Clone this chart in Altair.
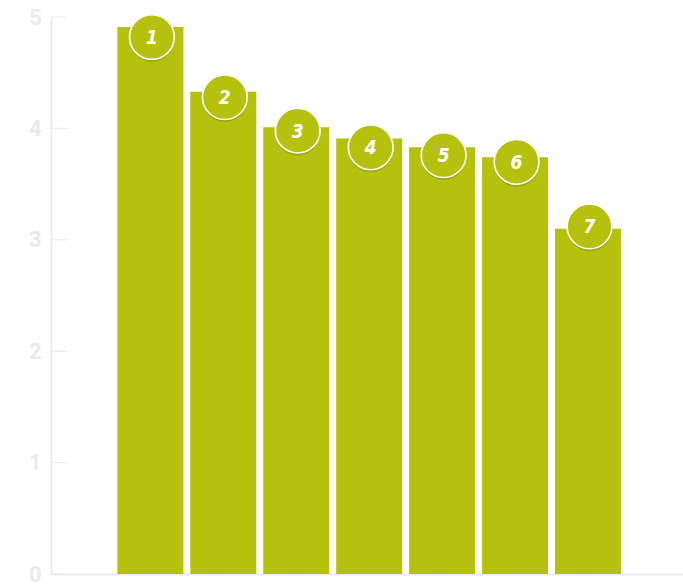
import altair as alt
import pandas as pd

ranks = ["1", "2", "3", "4", "5", "6", "7"]
values = [4.91, 4.33, 4.01, 3.91, 3.83, 3.74, 3.10]
badge_levels = [4.82, 4.28, 3.98, 3.83, 3.76, 3.70, 3.12]
tick_values = [0, 1, 2, 3, 4, 5]

BAR = "#b6c10e"
GRID = "#ebebeb"

df = pd.DataFrame({"rank": ranks, "value": values, "badge": badge_levels})
ticks_df = pd.DataFrame({"t": tick_values})

xscale = alt.Scale(domain=ranks, paddingInner=0.095, paddingOuter=0.88, align=0.517)
yscale = alt.Scale(domain=[0, 5], nice=False, zero=True)

x_enc = alt.X("rank:N", scale=xscale, sort=ranks,
              axis=alt.Axis(labels=False, ticks=False, title=None, grid=False,
                            domainColor=GRID, domainWidth=2))

bars = alt.Chart(df).mark_bar(color=BAR).encode(
    x=x_enc,
    y=alt.Y("value:Q", scale=yscale,
            axis=alt.Axis(values=tick_values, format="d", ticks=False, grid=False, title=None,
                          domainColor=GRID, domainWidth=2,
                          labelColor="#eaeaea", labelFont="Roboto",
                          labelFontWeight="bold", labelFontSize=22,
                          labelPadding=10)),
)

tick_rules = alt.Chart(ticks_df).mark_rule(color=GRID, strokeWidth=1.2).encode(
    y=alt.Y("t:Q", scale=yscale),
    x=alt.value(0),
    x2=alt.value(16),
)

bx = alt.X("rank:N", scale=xscale, sort=ranks)
by = alt.Y("badge:Q", scale=yscale)

shadow = alt.Chart(df).mark_point(
    shape="circle", filled=True, size=2000, color="#7d8508", opacity=0.45,
    yOffset=2.5, xOffset=1.5,
).encode(x=bx, y=by)

badges = alt.Chart(df).mark_point(
    shape="circle", filled=True, size=2000, color=BAR,
    stroke="white", strokeWidth=1.6, opacity=1, strokeOpacity=1, xOffset=1.5,
).encode(x=bx, y=by)

labels = alt.Chart(df).mark_text(
    color="white", font="Liberation Sans Narrow, DejaVu Sans Condensed, Roboto",
    fontSize=19, fontWeight="bold", fontStyle="italic",
    baseline="middle", align="center", xOffset=1.5, dy=1,
).encode(x=bx, y=by, text="rank:N")

chart = alt.layer(bars, tick_rules, shadow, badges, labels).properties(
    width=632, height=557,
    background="white",
    autosize=alt.AutoSizeParams(type="none"),
    padding={"left": 51, "top": 17, "right": 0, "bottom": 12},
).configure_view(strokeWidth=0, stroke="transparent")

chart.save("out.html", embed_options={"renderer": "svg", "actions": False})
